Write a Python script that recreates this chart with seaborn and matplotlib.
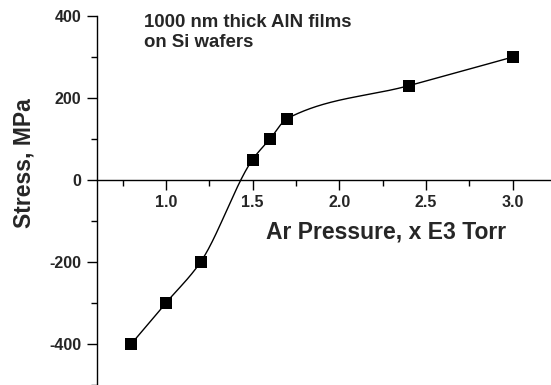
import numpy as np
import pandas as pd
import matplotlib
matplotlib.use("Agg")
import matplotlib.pyplot as plt
import seaborn as sns

# Measured film stress versus argon pressure
pressure = [0.8, 1.0, 1.2, 1.5, 1.6, 1.7, 2.4, 3.0]
stress = [-400, -300, -200, 50, 100, 150, 230, 300]

x_ticks = [1.0, 1.5, 2.0, 2.5, 3.0]
y_ticks = [-400, -200, 0, 200, 400]


def pchip(x, y, xs):
    """Shape-preserving piecewise cubic Hermite curve through (x, y)."""
    x = np.asarray(x, float)
    y = np.asarray(y, float)
    h = np.diff(x)
    delta = np.diff(y) / h
    n = len(x)
    d = np.zeros(n)
    for k in range(1, n - 1):
        if delta[k - 1] * delta[k] > 0:
            w1 = 2 * h[k] + h[k - 1]
            w2 = h[k] + 2 * h[k - 1]
            d[k] = (w1 + w2) / (w1 / delta[k - 1] + w2 / delta[k])
    d[0] = ((2 * h[0] + h[1]) * delta[0] - h[0] * delta[1]) / (h[0] + h[1])
    if np.sign(d[0]) != np.sign(delta[0]):
        d[0] = 0
    elif np.sign(delta[0]) != np.sign(delta[1]) and abs(d[0]) > abs(3 * delta[0]):
        d[0] = 3 * delta[0]
    d[-1] = ((2 * h[-1] + h[-2]) * delta[-1] - h[-1] * delta[-2]) / (h[-1] + h[-2])
    if np.sign(d[-1]) != np.sign(delta[-1]):
        d[-1] = 0
    elif np.sign(delta[-1]) != np.sign(delta[-2]) and abs(d[-1]) > abs(3 * delta[-1]):
        d[-1] = 3 * delta[-1]
    idx = np.clip(np.searchsorted(x, xs) - 1, 0, n - 2)
    hk = h[idx]
    t = (xs - x[idx]) / hk
    h00 = 2 * t ** 3 - 3 * t ** 2 + 1
    h10 = t ** 3 - 2 * t ** 2 + t
    h01 = -2 * t ** 3 + 3 * t ** 2
    h11 = t ** 3 - t ** 2
    return h00 * y[idx] + h10 * hk * d[idx] + h01 * y[idx + 1] + h11 * hk * d[idx + 1]


df = pd.DataFrame({"pressure": pressure, "stress": stress})
xs = np.linspace(min(pressure), max(pressure), 500)
curve = pd.DataFrame({"pressure": xs, "stress": pchip(pressure, stress, xs)})

sns.set_theme(style="ticks")
plt.rcParams["font.family"] = ["Liberation Sans", "DejaVu Sans"]
plt.rcParams["font.weight"] = "bold"

fig = plt.figure(figsize=(5.51, 3.85), dpi=100)
ax = fig.add_axes([96.5 / 551, 0.0, 1 - 96.5 / 551, (385 - 16) / 385])

sns.lineplot(data=curve, x="pressure", y="stress", ax=ax, color="black",
             linewidth=1.0, sort=False)
sns.scatterplot(data=df, x="pressure", y="stress", ax=ax, color="black",
                marker="s", s=70, edgecolor="black", linewidth=0, zorder=5)

ax.set_xlim(0.6, 3.22)
ax.set_ylim(-500, 400)

ax.spines["top"].set_visible(False)
ax.spines["right"].set_visible(False)
ax.spines["bottom"].set_position(("data", 0))
for sp in ("left", "bottom"):
    ax.spines[sp].set_linewidth(1.0)
    ax.spines[sp].set_color("black")

ax.set_xticks(x_ticks)
ax.set_xticklabels([f"{v:.1f}" for v in x_ticks])
ax.set_xticks([0.75, 1.25, 1.75, 2.25, 2.75], minor=True)
ax.set_yticks(y_ticks)
ax.set_yticklabels([str(v) for v in y_ticks])
ax.set_yticks([-500, -300, -100, 100, 300], minor=True)

ax.tick_params(which="major", direction="out", length=7, width=1.0,
               labelsize=11.5, pad=4, color="black")
ax.tick_params(which="minor", direction="out", length=4, width=1.0, color="black")
for lab in ax.get_xticklabels() + ax.get_yticklabels():
    lab.set_fontweight("bold")

ax.set_xlabel("")
ax.set_ylabel("")
fig.text(386.5 / 551, 1 - 232 / 385, "Ar Pressure, x E3 Torr", ha="center",
         va="center", fontsize=16.5, fontweight="bold")
fig.text(24.5 / 551, 1 - 163 / 385, "Stress, MPa", ha="center", va="center",
         rotation=90, fontsize=16.5, fontweight="bold")
fig.text(144 / 551, 1 - 14 / 385, "1000 nm thick AlN films\non Si wafers",
         ha="left", va="top", fontsize=13.4, fontweight="bold", linespacing=1.25)

fig.savefig("out.png", dpi=100)
